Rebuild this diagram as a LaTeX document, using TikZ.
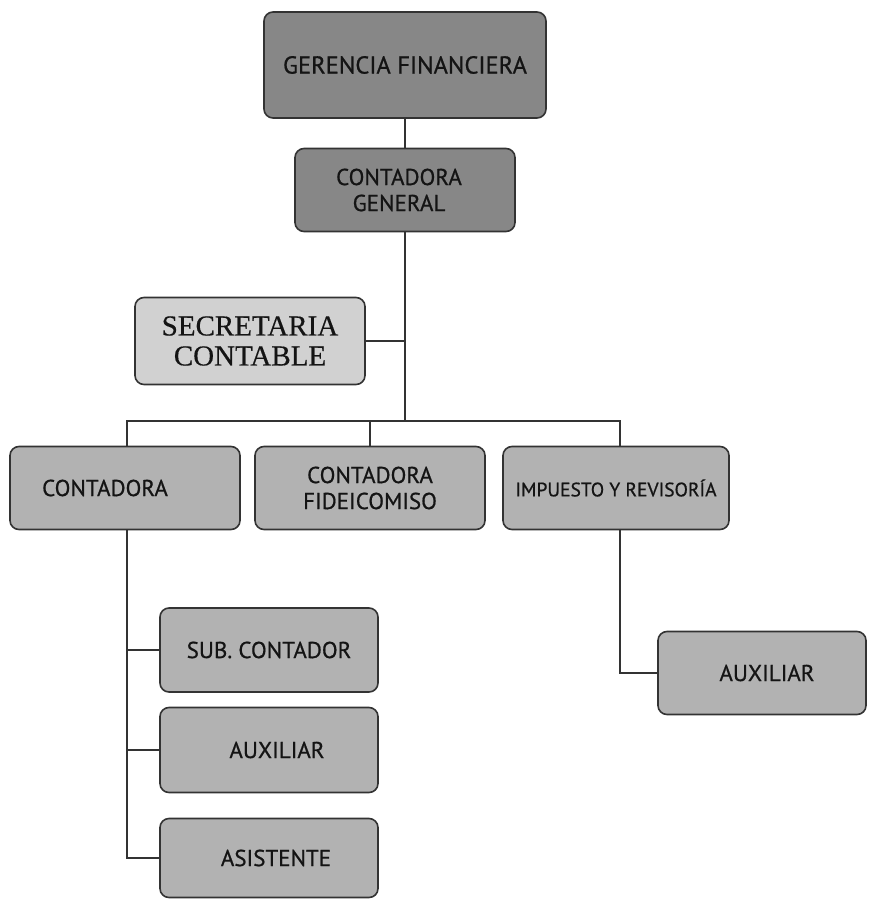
\documentclass[tikz,border=0pt]{standalone}
\usepackage{fontspec}
\setmainfont{PT Sans}
\newfontfamily\orgsans[FakeBold=0.7]{PT Sans}
\newfontfamily\boxserif[FakeBold=0.4]{Liberation Serif}
\begin{document}
\begin{tikzpicture}[x=1pt,y=-1pt,
  orgbox/.style={draw=black!80, line width=1.6pt, rounded corners=9pt,
    align=center, inner sep=0pt, text=black!92, font=\orgsans\fontsize{23}{26}\selectfont},
  darkbox/.style={orgbox, fill=black!47},
  midbox/.style={orgbox, fill=black!30},
  lightbox/.style={orgbox, fill=black!18},
  link/.style={draw=black!80, line width=1.4pt}]
\useasboundingbox (0,0) rectangle (868,899);

% top of the hierarchy
\node[darkbox, minimum width=282pt, minimum height=106pt, font=\orgsans\fontsize{24.5}{28}\selectfont]
  (gf) at (405,65) {GERENCIA FINANCIERA};
\node[darkbox, minimum width=220pt, minimum height=83pt]
  (cg) at (405,190) {\hspace*{-12pt}CONTADORA\\\hspace*{-12pt}GENERAL};

% staff position
\node[lightbox, minimum width=230pt, minimum height=87pt, font=\boxserif\fontsize{29}{30}\selectfont]
  (sc) at (250,341) {SECRETARIA\\CONTABLE};

% second level
\node[midbox, minimum width=230pt, minimum height=83pt] (ct) at (125,488) {\hspace*{-40pt}CONTADORA};
\node[midbox, minimum width=230pt, minimum height=83pt] (cf) at (370,488) {CONTADORA\\FIDEICOMISO};
\node[midbox, minimum width=226pt, minimum height=83pt, font=\orgsans\fontsize{19.5}{22}\selectfont]
  (ir) at (616,488) {IMPUESTO Y REVISORÍA};

% third level
\node[midbox, minimum width=218pt, minimum height=84pt] (sub) at (269,650) {SUB. CONTADOR};
\node[midbox, minimum width=218pt, minimum height=85pt] (aux1) at (269,750) {\hspace*{16pt}AUXILIAR};
\node[midbox, minimum width=218pt, minimum height=79pt] (asi) at (269,858) {\hspace*{14pt}ASISTENTE};
\node[midbox, minimum width=208pt, minimum height=83pt] (aux2) at (762,673) {\hspace*{10pt}AUXILIAR};

% junction points of the tree
\coordinate (bus) at (405,421);
\coordinate (spine) at (127,421);

% connectors
\draw[link] (gf.south) -- (cg.north);
\draw[link] (cg.south) -- (bus);
\draw[link] (sc.east) -- (sc.east -| cg.south);
\draw[link] (ct.north -| spine) |- (bus) -| (ir.north -| 620,0);
\draw[link] (cf.north) -- (cf.north |- bus);
\draw[link] (ct.south -| spine) |- (asi.west);
\draw[link] (sub.west) -- (sub.west -| spine);
\draw[link] (aux1.west) -- (aux1.west -| spine);
\draw[link] (ir.south -| 620,0) |- (aux2.west);
\end{tikzpicture}
\end{document}
